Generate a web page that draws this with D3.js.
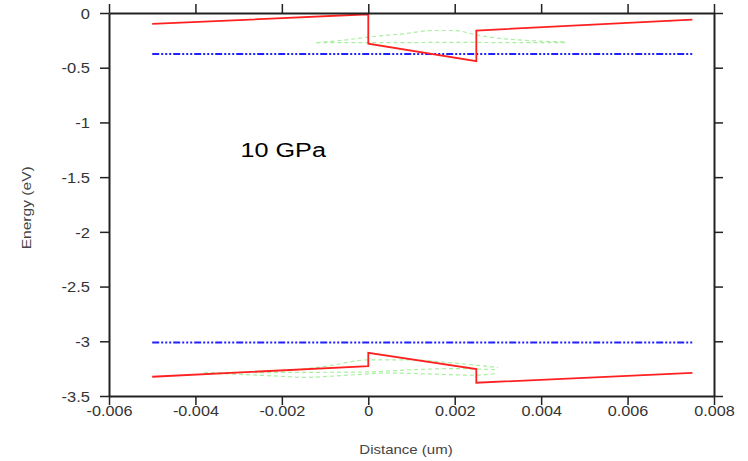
<!DOCTYPE html>
<html><head><meta charset="utf-8">
<script src="https://cdn.jsdelivr.net/npm/d3@7"></script>
<style>body{margin:0;background:#fff}svg{display:block}text{font-family:"Liberation Sans",Arial,sans-serif}</style>
</head><body><svg id="c" width="748" height="461"></svg>
<script>
// ---- data ----
const xTicks = [-0.006,-0.004,-0.002,0,0.002,0.004,0.006,0.008];
const xTickLabels = ["-0.006","-0.004","-0.002","0","0.002","0.004","0.006","0.008"];
const yTicks = [0,-0.5,-1,-1.5,-2,-2.5,-3,-3.5];
const yTickLabels = ["0","-0.5","-1","-1.5","-2","-2.5","-3","-3.5"];
const bandX = [-0.005, 0, 0, 0.0025, 0.0025, 0.0075];
const condE = [-0.10, -0.012, -0.28, -0.44, -0.16, -0.06];
const valE  = [-3.324, -3.227, -3.105, -3.254, -3.379, -3.288];
const levelX = [-0.005, 0.0075];
const upperLevelE = [-0.375, -0.375];
const lowerLevelE = [-3.01, -3.01];
const wfTopX1 = [-0.0012, 0, 0.001, 0.002, 0.003, 0.0046];
const wfTopE1 = [-0.27, -0.27, -0.27, -0.268, -0.27, -0.27];
const wfTopX2 = [-0.0012, -0.0005, 0, 0.0008, 0.0015, 0.002, 0.0025, 0.003, 0.0046];
const wfTopE2 = [-0.27, -0.245, -0.22, -0.19, -0.16, -0.16, -0.2, -0.23, -0.265];
const wfBotX1 = [-0.0038, -0.002, -0.001, 0, 0.001, 0.002, 0.003];
const wfBotE1 = [-3.29, -3.27, -3.23, -3.17, -3.17, -3.2, -3.24];
const wfBotX2 = [-0.0038, -0.002, 0, 0.001, 0.002, 0.003];
const wfBotE2 = [-3.29, -3.285, -3.28, -3.26, -3.25, -3.26];
const wfBotX3 = [-0.0038, -0.002, -0.0015, -0.0005, 0.0005, 0.0015, 0.0025, 0.003];
const wfBotE3 = [-3.29, -3.32, -3.33, -3.31, -3.29, -3.3, -3.31, -3.29];
const annotation = "10 GPa";
const xTitle = "Distance (um)";
const yTitle = "Energy (eV)";

// ---- drawing ----
const svg = d3.select("#c");
const L=109, R=714, T=13, B=396;
const x = d3.scaleLinear().domain([-0.006,0.008]).range([L,R]);
const y = d3.scaleLinear().domain([-3.5,0]).range([B,T]);
const line = d3.line().x(d=>x(d[0])).y(d=>y(d[1]));
const zip = (a,b)=>a.map((v,i)=>[v,b[i]]);

const plot = svg.append("g");
[[wfTopX1,wfTopE1],[wfTopX2,wfTopE2],[wfBotX1,wfBotE1],[wfBotX2,wfBotE2],[wfBotX3,wfBotE3]].forEach(([a,b])=>{
  plot.append("path").attr("d", line.curve(d3.curveMonotoneX)(zip(a,b)))
    .attr("fill","none").attr("stroke","#a8f0a0").attr("stroke-width",1.2).attr("stroke-dasharray","4,3");
});
line.curve(d3.curveLinear);
[upperLevelE, lowerLevelE].forEach(e=>{
  plot.append("path").attr("d", line(zip(levelX,e)))
    .attr("fill","none").attr("stroke","#2020ff").attr("stroke-width",2)
    .attr("stroke-dasharray","7,2,2,2,2,2,2,2");
});
[condE, valE].forEach(e=>{
  plot.append("path").attr("d", line(zip(bandX,e)))
    .attr("fill","none").attr("stroke","#ff2020").attr("stroke-width",1.8);
});

// axes
const axCol = "#222";
const fmtX = (d,i)=>xTickLabels[i], fmtY=(d,i)=>yTickLabels[i];
const gB = svg.append("g").attr("transform",`translate(0,${B})`)
  .call(d3.axisBottom(x).tickValues(xTicks).tickFormat(fmtX).tickSize(9).tickSizeOuter(0).tickPadding(0));
const gT = svg.append("g").attr("transform",`translate(0,${T})`)
  .call(d3.axisTop(x).tickValues(xTicks).tickFormat("").tickSize(9).tickSizeOuter(0));
const gL = svg.append("g").attr("transform",`translate(${L},0)`)
  .call(d3.axisLeft(y).tickValues(yTicks).tickFormat(fmtY).tickSize(9).tickSizeOuter(0).tickPadding(10));
const gR = svg.append("g").attr("transform",`translate(${R},0)`)
  .call(d3.axisRight(y).tickValues(yTicks).tickFormat("").tickSize(9).tickSizeOuter(0));
[gB,gT,gL,gR].forEach(g=>{
  g.selectAll("path.domain").attr("stroke",axCol).attr("stroke-width",2);
  g.selectAll(".tick line").attr("stroke",axCol).attr("stroke-width",1.5);
  g.selectAll("text").attr("fill","#333").style("font-size","15px").style("font-family","'Liberation Sans',Arial,sans-serif");
});
gB.selectAll("text").attr("y",0).attr("dy","0.71em").attr("transform","translate(0,9) scale(1.08,1)");
gL.selectAll("text").attr("x",0).attr("dy","0.35em").attr("transform","translate(-19,0) scale(1.1,1)");

svg.append("text").attr("transform","translate(406,454) scale(1.2,1)").attr("text-anchor","middle")
  .attr("fill","#444").style("font-size","12.5px").text(xTitle);
svg.append("text").attr("transform",`translate(31,${y(-1.78)}) rotate(-90) scale(1.3,1)`).attr("text-anchor","middle")
  .attr("fill","#444").style("font-size","12px").text(yTitle);
svg.append("text").attr("transform",`translate(240.5,${y(-1.32)}) scale(1.2,1)`).attr("fill","#000")
  .style("font-size","21px").text(annotation);
</script></body></html>
